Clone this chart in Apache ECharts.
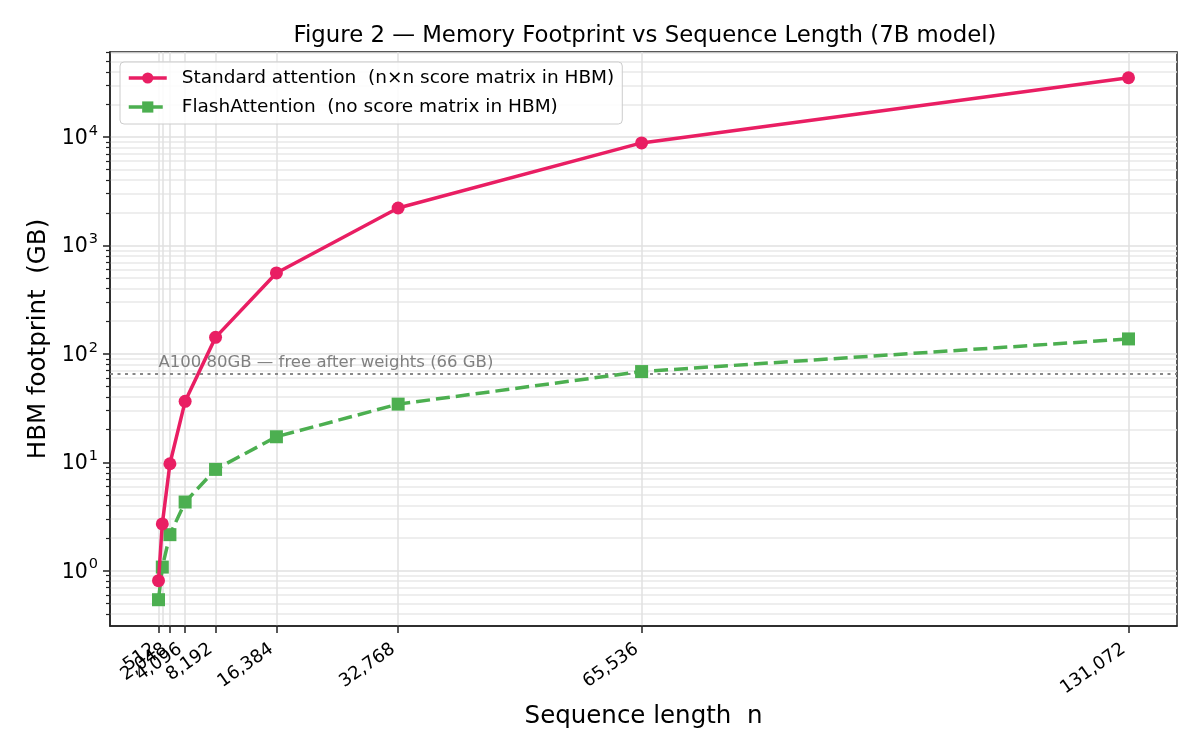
<!DOCTYPE html>
<html>
<head>
<meta charset="utf-8">
<title>Memory Footprint vs Sequence Length</title>
<script src="https://cdn.jsdelivr.net/npm/echarts@6/dist/echarts.min.js"></script>
<style>
    html, body { margin: 0; padding: 0; background: #fff; }
    #chart { width: 1200px; height: 750px; }
</style>
</head>
<body>
<div id="chart"></div>
<script>
// sequence lengths (x) and HBM footprint in GB (y)
var seqLens = [512, 1024, 2048, 4096, 8192, 16384, 32768, 65536, 131072];
var standardGB = [0.81, 2.7, 9.7, 36.5, 142, 558, 2216, 8830, 35250];
var flashGB = [0.54, 1.08, 2.15, 4.3, 8.6, 17.2, 34.4, 68.7, 137.4];
var a100FreeGB = 66;
var yMajorTicks = [1, 10, 100, 1000, 10000];

var FONT = 'DejaVu Sans';
var Y_MIN = 0.309, Y_MAX = 60900;

window.onload = function () {
    drawChart();
};

function pairs(xs, ys) {
    var out = [];
    for (var i = 0; i < xs.length; i++) {
        out.push([xs[i], ys[i]]);
    }
    return out;
}

// 2..9 x 10^k inside the axis range, for the minor grid
function minorTicks() {
    var out = [];
    for (var k = -1; k <= 4; k++) {
        for (var m = 2; m <= 9; m++) {
            var v = m * Math.pow(10, k);
            if (v > Y_MIN && v < Y_MAX) out.push(v);
        }
    }
    return out;
}

function drawChart() {
    var chart = echarts.init(document.getElementById('chart'));

    var option = {
        animation: false,
        backgroundColor: '#fff',
        title: {
            text: 'Figure 2 \u2014 Memory Footprint vs Sequence Length (7B model)',
            left: 640,
            textAlign: 'center',
            top: 20,
            textStyle: { fontFamily: FONT, fontSize: 22.8, fontWeight: 'normal', color: '#000' }
        },
        legend: {
            left: 120,
            top: 62,
            orient: 'vertical',
            itemWidth: 38,
            itemHeight: 14,
            itemGap: 7,
            padding: [5, 8, 6, 7],
            borderColor: '#cccccc',
            borderWidth: 1,
            borderRadius: 4,
            backgroundColor: 'rgba(255,255,255,0.85)',
            lineStyle: { width: 3.5 },
            textStyle: { fontFamily: FONT, fontSize: 18.5, color: '#000', lineHeight: 22, padding: [0, 0, 0, 10] },
            data: ['Standard attention  (n\u00d7n score matrix in HBM)', 'FlashAttention  (no score matrix in HBM)']
        },
        grid: {
            left: 110,
            right: 23,
            top: 52,
            bottom: 124,
            show: true,
            borderColor: '#222',
            borderWidth: 1.5,
            backgroundColor: 'transparent'
        },
        xAxis: {
            type: 'value',
            min: -6016,
            max: 137600,
            name: 'Sequence length  n',
            nameLocation: 'middle',
            nameGap: 74,
            nameTextStyle: { fontFamily: FONT, fontSize: 24.5, color: '#000' },
            axisLine: { show: true, onZero: false, lineStyle: { color: '#222', width: 1.5 } },
            axisTick: { show: true, length: 7, customValues: seqLens, lineStyle: { color: '#222', width: 1.5 } },
            axisLabel: {
                customValues: seqLens,
                rotate: 35,
                margin: 18,
                padding: [0, 6, 0, 0],
                hideOverlap: false,
                showMinLabel: true,
                showMaxLabel: true,
                fontFamily: FONT,
                fontSize: 18,
                color: '#000',
                formatter: function (v) { return Number(v).toLocaleString('en-US'); }
            },
            splitLine: { show: true, lineStyle: { color: '#e0e0e0', width: 1.5 } }
        },
        yAxis: [
            {
                type: 'log',
                logBase: 10,
                min: Y_MIN,
                max: Y_MAX,
                position: 'left',
                name: 'HBM footprint  (GB)',
                nameLocation: 'middle',
                nameGap: 58,
                nameTextStyle: { fontFamily: FONT, fontSize: 24.5, color: '#000' },
                axisLine: { show: true, onZero: false, lineStyle: { color: '#222', width: 1.5 } },
                axisTick: { show: true, length: 7, customValues: yMajorTicks, lineStyle: { color: '#222', width: 1.5 } },
                axisLabel: {
                    customValues: yMajorTicks,
                    margin: 12,
                    color: '#000',
                    formatter: function (v) {
                        var k = Math.round(Math.log10(v));
                        return '{b|10}{s|' + k + '}';
                    },
                    rich: {
                        b: { fontFamily: FONT, fontSize: 20.5, color: '#000', padding: [3, 0, 0, 0] },
                        s: { fontFamily: FONT, fontSize: 14.5, color: '#000', verticalAlign: 'bottom', padding: [0, 0, 12, 1] }
                    }
                },
                splitLine: { show: true, lineStyle: { color: '#e0e0e0', width: 1.5 } }
            },
            {
                // minor ticks and minor grid
                type: 'log',
                logBase: 10,
                min: Y_MIN,
                max: Y_MAX,
                position: 'left',
                axisLine: { show: false, onZero: false },
                axisTick: { show: true, length: 4, customValues: minorTicks(), lineStyle: { color: '#222', width: 1.2 } },
                axisLabel: { show: false, customValues: minorTicks() },
                splitLine: { show: true, lineStyle: { color: '#e8e8e8', width: 1.5 } }
            }
        ],
        series: [
            {
                name: 'Standard attention  (n\u00d7n score matrix in HBM)',
                type: 'line',
                yAxisIndex: 0,
                data: pairs(seqLens, standardGB),
                color: '#e91e63',
                symbol: 'circle',
                symbolSize: 13,
                lineStyle: { width: 3.5 },
                z: 4,
                markLine: {
                    silent: true,
                    symbol: ['none', 'none'],
                    label: { show: false },
                    lineStyle: { color: '#888', type: [3, 4.5], width: 2.2 },
                    data: [{ yAxis: a100FreeGB }],
                    z: 1
                },
                markPoint: {
                    silent: true,
                    symbol: 'circle',
                    symbolSize: 0,
                    data: [{ coord: [seqLens[0], a100FreeGB] }],
                    label: {
                        show: true,
                        position: [0, 0],
                        align: 'left',
                        verticalAlign: 'bottom',
                        offset: [0, -2],
                        formatter: 'A100 80GB \u2014 free after weights (66 GB)',
                        fontFamily: FONT,
                        fontSize: 16.5,
                        color: '#808080'
                    }
                }
            },
            {
                name: 'FlashAttention  (no score matrix in HBM)',
                type: 'line',
                yAxisIndex: 0,
                data: pairs(seqLens, flashGB),
                color: '#4caf50',
                symbol: 'rect',
                symbolSize: 13,
                lineStyle: { width: 3.5, type: [14, 6] },
                z: 3
            }
        ]
    };

    chart.setOption(option);
}
</script>
</body>
</html>
